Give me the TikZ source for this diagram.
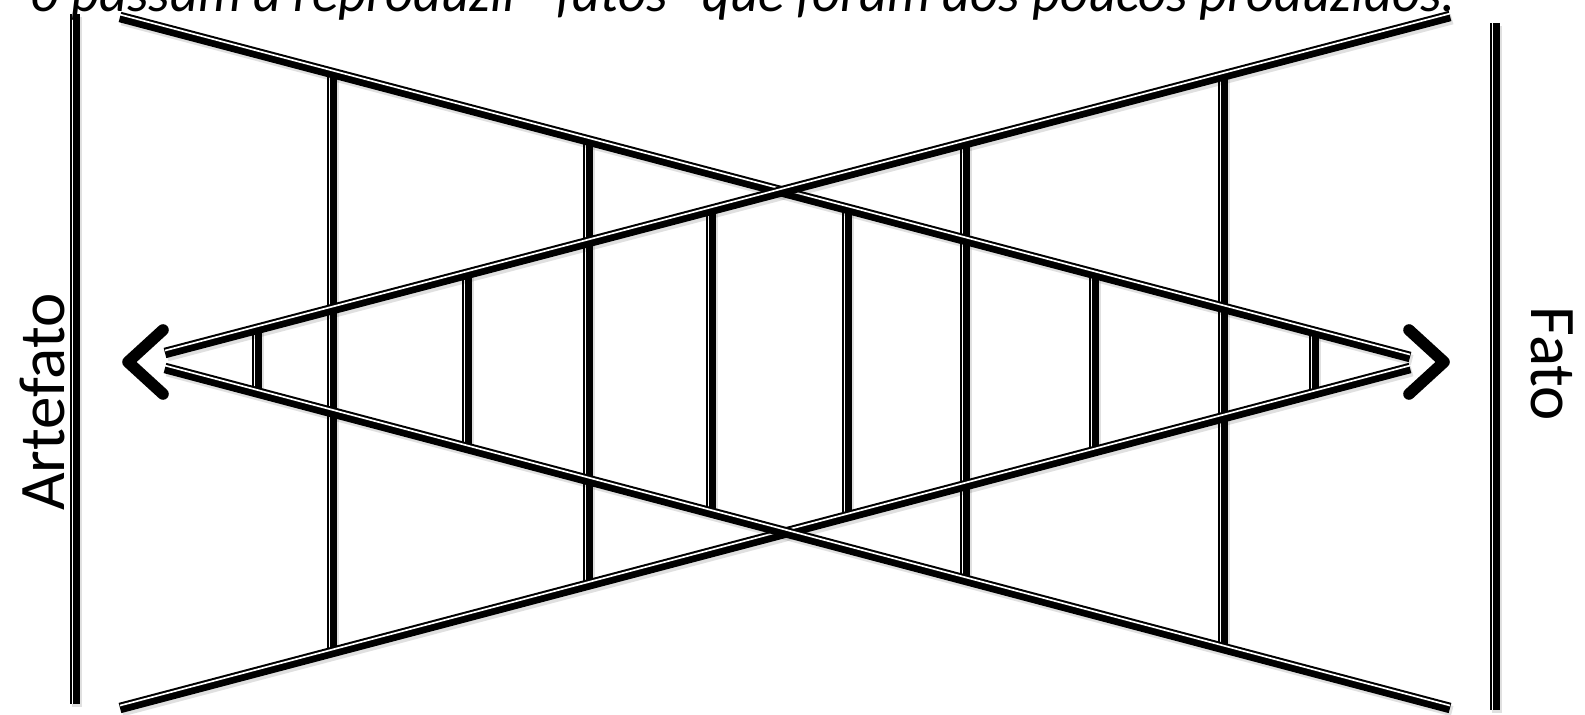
\documentclass[tikz,border=0pt]{standalone}
\usepackage{fontspec}
\setmainfont{Carlito}
\usepackage{tikz}
\usetikzlibrary{calc}
\tikzstyle{rail}     = [line width=6pt, black]
\tikzstyle{groove}   = [line width=0.95pt, white]
\tikzstyle{halo}     = [line width=6pt, black, opacity=0.12]
\tikzstyle{chevron}  = [line width=6.6pt, line cap=round, line join=round]
\tikzstyle{sidetext} = [font=\fontsize{37}{40}\selectfont, inner sep=0pt]
\tikzstyle{quote}    = [font=\fontsize{31}{34}\selectfont\itshape, inner sep=0pt]
% one rail: soft halo, black bar, white groove near its thin side
\newcommand{\railpath}[3]{%
  \draw[halo, transform canvas={xshift=1.2pt, yshift=-1.8pt}] #1 -- #2;
  \draw[rail] #1 -- #2;
  \draw[groove, transform canvas={#3}] #1 -- #2;}

\begin{document}
\begin{tikzpicture}[x=0.02cm, y=-0.02cm]
  \useasboundingbox (0,0) rectangle (1585,715);

  % end points of the four long rails
  \coordinate (a1) at (120,17);   \coordinate (a2) at (1410,357);
  \coordinate (c1) at (120,708);  \coordinate (c2) at (1410,368);
  \coordinate (b1) at (165,353);  \coordinate (b2) at (1450,16);
  \coordinate (d1) at (165,368);  \coordinate (d2) at (1450,708);

  % rungs between B and D
  \foreach \x in {257,467,711,965,1223}
    \railpath{($(b1)!{(\x-165)/1285}!(b2)$)}{($(d1)!{(\x-165)/1285}!(d2)$)}{xshift=-1.4pt};
  % rungs between A and C
  \foreach \x in {332,588,847,1094,1314}
    \railpath{($(a1)!{(\x-120)/1290}!(a2)$)}{($(c1)!{(\x-120)/1290}!(c2)$)}{xshift=-1.4pt};

  % long rails
  \railpath{(a1)}{(a2)}{yshift=1.4pt}
  \railpath{(c1)}{(c2)}{yshift=1.4pt}
  \railpath{(b1)}{(b2)}{yshift=1.4pt}
  \railpath{(d1)}{(d2)}{yshift=1.4pt}

  % side posts
  \coordinate (lp1) at (75,14);   \coordinate (lp2) at (75,704);
  \coordinate (rp1) at (1495,23); \coordinate (rp2) at (1495,710);
  \railpath{(lp1)}{(lp2)}{xshift=-1.4pt}
  \railpath{(rp1)}{(rp2)}{xshift=-1.4pt}

  % arrow heads
  \coordinate (ltip) at (128,362);  \coordinate (rtip) at (1444,362);
  \draw[chevron] (163,330) coordinate (la1) -- (ltip) -- (163,394) coordinate (la2);
  \draw[chevron] (1409,330) coordinate (ra1) -- (rtip) -- (1409,394) coordinate (ra2);

  % texts
  \node[quote, anchor=base east] (caption) at (1456,12)
       {o passam a reproduzir “fatos” que foram aos poucos produzidos.};
  \node[sidetext, rotate=90, anchor=base] (artefato) at (64,402) {Artefato};
  \node[sidetext, rotate=-90, anchor=base] (fato) at (1531,364) {Fato};
\end{tikzpicture}
\end{document}
